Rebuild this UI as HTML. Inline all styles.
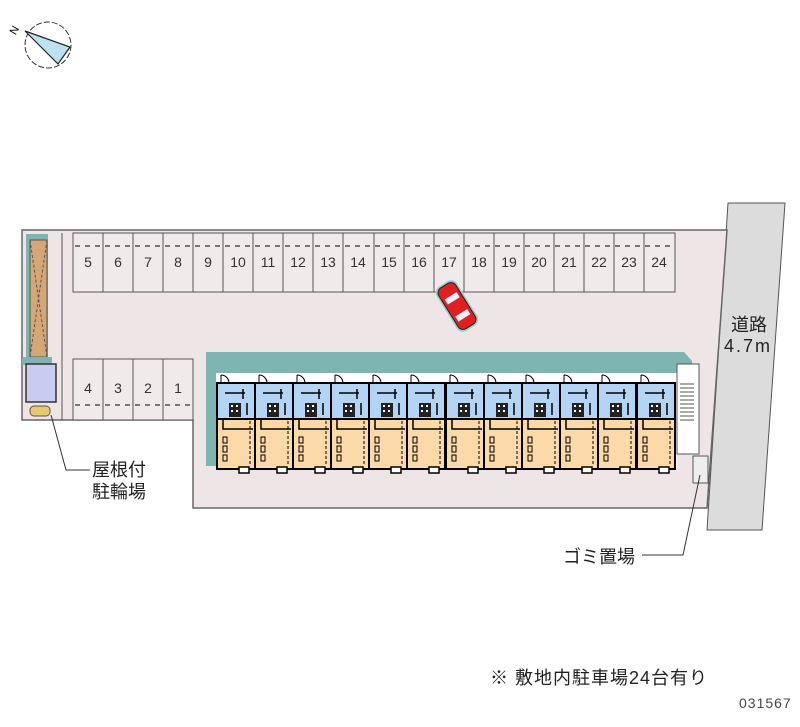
<!DOCTYPE html>
<html><head><meta charset="utf-8"><style>
html,body{margin:0;padding:0;background:#fff}
svg{display:block}
text{font-family:"Liberation Sans","Noto Sans CJK JP",sans-serif}
</style></head><body>
<svg width="800" height="727" viewBox="0 0 800 727" xmlns="http://www.w3.org/2000/svg">
<defs>
<g id="unit">
 <rect x="0" y="0" width="38" height="36" fill="#b4d4f6" stroke="#000" stroke-width="2"/>
 <rect x="0" y="36" width="38" height="50" fill="#fcd9a8" stroke="#000" stroke-width="2"/>
 <path d="M4 -8 v8 M4 -8 a8 8 0 0 1 8 8" fill="none" stroke="#000" stroke-width="1"/>
 <rect x="12" y="20" width="12" height="14" fill="#222"/>
 <rect x="14" y="22" width="2" height="2" fill="#fff"/><rect x="19" y="22" width="2" height="2" fill="#fff"/>
 <rect x="14" y="27" width="2" height="2" fill="#fff"/><rect x="19" y="27" width="2" height="2" fill="#fff"/>
 <path d="M8 10 h20 M26 6 v10 M30 20 v12" stroke="#000" stroke-width="1.5"/>
 <path d="M6 36 v10 h30" fill="none" stroke="#000" stroke-width="1.5"/>
 <path d="M33 38 v44" stroke="#000" stroke-width="1" stroke-dasharray="3 2"/>
 <rect x="6" y="54" width="4" height="6" fill="none" stroke="#000"/><rect x="6" y="63" width="4" height="6" fill="none" stroke="#000"/><rect x="6" y="72" width="4" height="6" fill="none" stroke="#000"/>
 <rect x="22" y="84" width="10" height="6" fill="#fff" stroke="#000" stroke-width="1.5"/>
</g>
</defs>
<!-- compass -->
<circle cx="48" cy="45" r="23" fill="none" stroke="#333" stroke-width="1" stroke-dasharray="6 2"/>
<polygon points="25,31 70,47 58,64" fill="#bfe0f0" stroke="#222" stroke-width="1.2"/>
<text x="10" y="34" font-size="11" transform="rotate(-60 14 30)">N</text>
<!-- road -->
<polygon points="728,203 785,203 762,530 707,530" fill="#dcdcdc" stroke="#555" stroke-width="1"/>
<!-- lot -->
<polygon points="22,230 727,230 707,508 193,508 193,420 22,420" fill="#eee6e6" stroke="#666" stroke-width="1.5"/>
<!-- stalls top -->
<rect x="73" y="233" width="602" height="59" fill="#f0eaea" stroke="#555" stroke-width="1"/>
<g stroke="#555" stroke-width="1">
<path d="M62 233 v187 M103 233 v59 M133 233 v59 M163 233 v59 M193 233 v59 M223 233 v59 M253 233 v59 M283 233 v59 M313 233 v59 M343 233 v59 M374 233 v59 M404 233 v59 M434 233 v59 M464 233 v59 M494 233 v59 M524 233 v59 M554 233 v59 M584 233 v59 M614 233 v59 M644 233 v59"/>
</g>
<path d="M75 246 H673" stroke="#777" stroke-width="2" stroke-dasharray="5 5"/>
<g font-size="14" fill="#333" text-anchor="middle">
<text x="88" y="267">5</text><text x="118" y="267">6</text><text x="148" y="267">7</text><text x="178" y="267">8</text><text x="208" y="267">9</text><text x="238" y="267">10</text><text x="268" y="267">11</text><text x="298" y="267">12</text><text x="328" y="267">13</text><text x="358" y="267">14</text><text x="389" y="267">15</text><text x="419" y="267">16</text><text x="449" y="267">17</text><text x="479" y="267">18</text><text x="509" y="267">19</text><text x="539" y="267">20</text><text x="569" y="267">21</text><text x="599" y="267">22</text><text x="629" y="267">23</text><text x="659" y="267">24</text>
</g>
<!-- stalls bottom -->
<rect x="73" y="359" width="120" height="61" fill="#f0eaea" stroke="#555"/>
<path d="M103 359 v61 M133 359 v61 M163 359 v61" stroke="#555"/>
<path d="M75 405 H191" stroke="#777" stroke-width="2" stroke-dasharray="5 5"/>
<g font-size="14" fill="#333" text-anchor="middle">
<text x="88" y="393">4</text><text x="118" y="393">3</text><text x="148" y="393">2</text><text x="178" y="393">1</text>
</g>
<!-- bike shelter -->
<rect x="26" y="234" width="22" height="125" fill="#7fb5b0"/>
<rect x="30" y="240" width="17" height="117" fill="#d5a777" stroke="#555"/>
<path d="M30 240 L47 357 M47 240 L30 357" stroke="#555" stroke-dasharray="3 2"/>
<rect x="22" y="357" width="30" height="8" fill="#7fb5b0"/>
<rect x="26" y="364" width="30" height="38" fill="#c8cdf0" stroke="#333" stroke-width="1.5"/>
<rect x="30" y="406" width="20" height="10" rx="4" fill="#e8c870" stroke="#555"/>
<path d="M51 415 L66 470 H90" fill="none" stroke="#333"/>
<text x="92" y="476" font-size="18" fill="#222">屋根付</text>
<text x="92" y="498" font-size="18" fill="#222">駐輪場</text>
<!-- building -->
<polygon points="206,352 684,352 692,361 692,373 216,373 216,466 206,466" fill="#7fb5b0"/>
<rect x="216" y="373" width="461" height="95" fill="#fff"/>
<use href="#unit" x="217" y="383"/><use href="#unit" x="255" y="383"/><use href="#unit" x="293" y="383"/><use href="#unit" x="331" y="383"/><use href="#unit" x="369" y="383"/><use href="#unit" x="407" y="383"/><use href="#unit" x="446" y="383"/><use href="#unit" x="484" y="383"/><use href="#unit" x="522" y="383"/><use href="#unit" x="560" y="383"/><use href="#unit" x="598" y="383"/><use href="#unit" x="637" y="383"/>
<rect x="677" y="364" width="22" height="90" fill="#fff" stroke="#555"/>
<path d="M680 384 h14 M680 388 h14 M680 392 h14 M680 396 h14 M680 400 h14 M680 404 h14 M680 408 h14 M680 412 h14 M680 416 h14 M680 420 h14" stroke="#555"/>
<rect x="693" y="456" width="15" height="27" fill="#eee" stroke="#555"/>
<path d="M700 475 L683 555 H642" fill="none" stroke="#333"/>
<text x="563" y="563" font-size="18" fill="#222">ゴミ置場</text>
<!-- road label -->
<text x="749" y="331" font-size="18" fill="#222" text-anchor="middle">道路</text>
<text x="748" y="352" font-size="18" fill="#222" text-anchor="middle" letter-spacing="2">4.7m</text>
<!-- car -->
<g transform="translate(457,306) rotate(-32)">
<rect x="-12" y="-26" width="24" height="52" rx="7" fill="#9cc" />
<rect x="-10" y="-24" width="20" height="48" rx="6" fill="#e02020" stroke="#222"/>
<rect x="-7" y="-12" width="14" height="6" fill="#eef"/>
<rect x="-7" y="8" width="14" height="6" fill="#eef"/>
</g>
<text x="490" y="684" font-size="18" fill="#222" letter-spacing="1">※ 敷地内駐車場24台有り</text>
<text x="739" y="708" font-size="14" fill="#444" letter-spacing="1">031567</text>
</svg>
</body></html>
